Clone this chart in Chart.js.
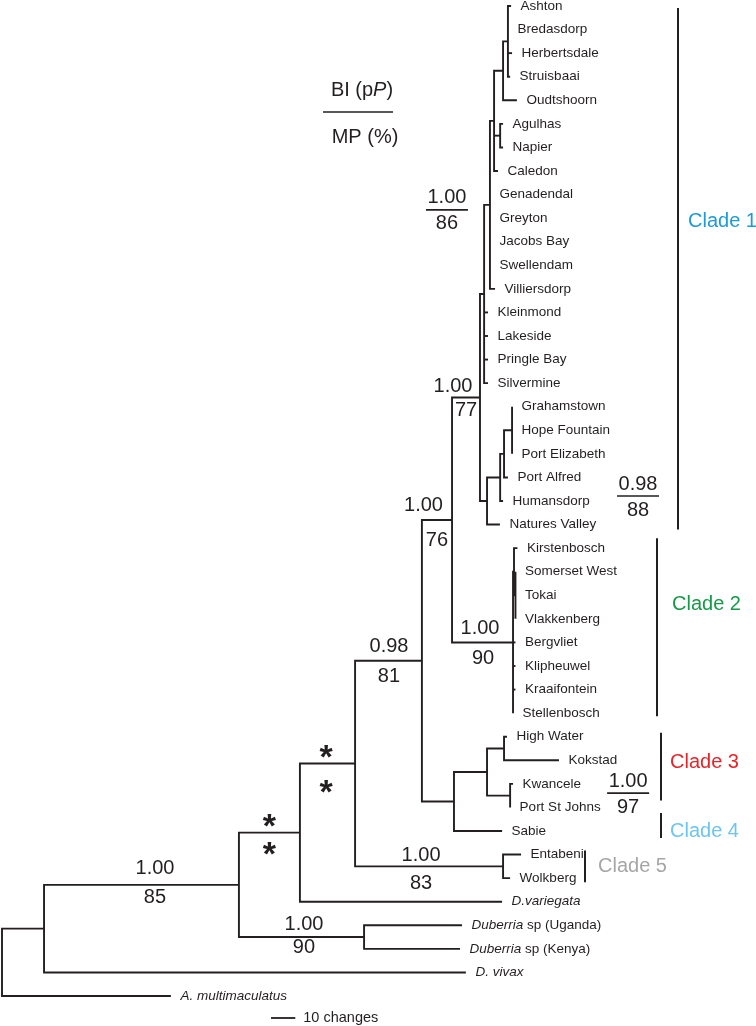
<!DOCTYPE html>
<html>
<head>
<meta charset="utf-8">
<script src="https://cdn.jsdelivr.net/npm/chart.js@4.4.1/dist/chart.umd.min.js"></script>
<style>
  html, body { margin: 0; padding: 0; background: #fff; }
  canvas { display: block; }
</style>
</head>
<body>
<canvas id="tree" width="756" height="1026"></canvas>
<script>
// Leaves, top to bottom. Text between _ _ is italic.
const taxa = [
    'Ashton', 'Bredasdorp', 'Herbertsdale', 'Struisbaai', 'Oudtshoorn',
    'Agulhas', 'Napier', 'Caledon', 'Genadendal', 'Greyton',
    'Jacobs Bay', 'Swellendam', 'Villiersdorp', 'Kleinmond', 'Lakeside',
    'Pringle Bay', 'Silvermine', 'Grahamstown', 'Hope Fountain', 'Port Elizabeth',
    'Port Alfred', 'Humansdorp', 'Natures Valley', 'Kirstenbosch', 'Somerset West',
    'Tokai', 'Vlakkenberg', 'Bergvliet', 'Klipheuwel', 'Kraaifontein',
    'Stellenbosch', 'High Water', 'Kokstad', 'Kwancele', 'Port St Johns',
    'Sabie', 'Entabeni', 'Wolkberg', '_D.variegata_', '_Duberria_ sp (Uganda)',
    '_Duberria_ sp (Kenya)', '_D. vivax_', '_A. multimaculatus_'
];

// distance of each tip from the root (changes)
const tipDepth = [
    209.5, 208.2, 209.9, 209.1, 211.9,
    206.2, 206.2, 204.1, 200.8, 200.8,
    200.8, 200.8, 202.9, 200.0, 200.0,
    200.0, 200.0, 209.9, 209.9, 209.9,
    208.2, 206.2, 204.9, 212.1, 211.3,
    211.3, 211.3, 211.3, 211.3, 211.3,
    210.3, 207.8, 229.2, 210.3, 209.1,
    205.8, 213.6, 209.1, 205.8, 189.3,
    188.5, 190.9, 69.5
];

// internal nodes, children first; numbers are leaves, strings are nodes
const nodeNames = ['A1', 'A2', 'AN', 'A3', 'W2', 'W1', 'G1', 'E3', 'E2', 'E1', 'C1',
                   'Z', 'Y', 'X', 'B', 'HK', 'KP', 'C3', 'C34', 'NA', 'EW', 'N6', 'N4',
                   'DU', 'N2', 'N1', 'R'];
const nodeDepth = [208.2, 206.2, 205.0, 202.5, 200.8, 198.4, 209.9, 206.6, 205.0, 199.6, 196.7,
                   211.3, 210.7, 210.3, 185.2, 206.6, 209.1, 199.6, 186.0, 172.8, 206.2, 145.3, 122.6,
                   149.0, 97.5, 17.3, 0];
const nodeKids = [
    [0, 1, 2, 3], ['A1', 4], [5, 6], ['A2', 'AN', 7], ['A3', 8, 9, 10, 11, 12],
    ['W2', 13, 14, 15, 16], [17, 18, 19], ['G1', 20], ['E3', 21], ['E2', 22], ['W1', 'E1'],
    [24, 25, 26], [23, 'Z'], ['Y', 27, 28, 29, 30], ['C1', 'X'], [31, 32], [33, 34],
    ['HK', 'KP'], ['C3', 35], ['B', 'C34'], [36, 37], ['NA', 'EW'], ['N6', 38],
    [39, 40], ['N4', 'DU'], ['N2', 41], ['N1', 42]
];

// support: Bayesian posterior / parsimony bootstrap
const supportNode = ['N2', 'N4', 'N6', 'NA', 'B', 'C1', 'X', 'EW', 'DU', 'W2', 'E1', 'KP'];
const supportBI = ['1.00', '*', '*', '0.98', '1.00', '1.00', '1.00', '1.00', '1.00', '1.00', '0.98', '1.00'];
const supportMP = ['85', '*', '*', '81', '76', '77', '90', '83', '90', '86', '88', '97'];

const cladeNames = ['Clade 1', 'Clade 2', 'Clade 3', 'Clade 4', 'Clade 5'];
const cladeFirst = [0, 23, 31, 35, 36];
const cladeLast = [22, 30, 34, 35, 37];
const scaleBarLength = 10; // changes

// ---- layout / styling (pixels) ----
const FONT = '"Liberation Sans", Arial, Helvetica, sans-serif';
const INK = '#231f20';
const cladeColors = ['#1e9ad6', '#17994a', '#e4262b', '#6ec5ee', '#a6a6a6'];
const cladeBarX = [678, 657, 661, 661, 585];
const cladePad = [[-2, 5], [10, 3], [4, -7], [18, 7], [4, 4]]; // extra above first / below last leaf
const cladeTextX = [688, 672, 670, 670, 598];
const cladeTextRow = [9.15, 25.4, 32.1, 35.0, 36.5];
// split: [dx, dy] of upper and lower text from branch midpoint; frac: [dx, dy] from node
const supportLayout = [
    { kind: 'split', top: [13.5, -16], bottom: [13.5, 13] },
    { kind: 'split', top: [0, -12], bottom: [0, 16] },
    { kind: 'split', top: [-1.5, -12], bottom: [-1.5, 23] },
    { kind: 'split', top: [0.5, -14], bottom: [0.5, 16] },
    { kind: 'split', top: [-13.5, -14], bottom: [0, 21] },
    { kind: 'split', top: [-13, -11], bottom: [0, 13] },
    { kind: 'split', top: [-2.5, -14], bottom: [0.5, 16] },
    { kind: 'split', top: [-8, -11], bottom: [-8, 17] },
    { kind: 'split', top: [2.5, -13], bottom: [2.5, 10] },
    { kind: 'frac', at: [-43, 5] },
    { kind: 'frac', at: [151, -5] },
    { kind: 'frac', at: [118, -2.5] }
];
const scaleBarStart = 110.7;

// y of every node = midpoint of first and last child
const nodeX = {}, nodeY = {}, parentOf = {};
const kidX = k => typeof k === 'number' ? tipDepth[k] : nodeX[k];
const kidY = k => typeof k === 'number' ? k : nodeY[k];
nodeNames.forEach((n, i) => {
    const kids = nodeKids[i];
    nodeX[n] = nodeDepth[i];
    nodeY[n] = (kidY(kids[0]) + kidY(kids[kids.length - 1])) / 2;
    kids.forEach(k => { if (typeof k === 'string') parentOf[k] = n; });
});

const segments = [];
nodeNames.forEach((n, i) => {
    const kids = nodeKids[i];
    const x = nodeDepth[i];
    const a = kids[0], b = kids[kids.length - 1];
    segments.push([
        { x: kidX(a), y: kidY(a) }, { x: x, y: kidY(a) },
        { x: x, y: kidY(b) }, { x: kidX(b), y: kidY(b) }
    ]);
    kids.slice(1, -1).forEach(k => segments.push([{ x: x, y: kidY(k) }, { x: kidX(k), y: kidY(k) }]));
});

const datasets = segments.map(seg => ({
    data: seg,
    showLine: true,
    borderColor: INK,
    borderWidth: 1.9,
    pointRadius: 0,
    fill: false,
    tension: 0,
    borderJoinStyle: 'miter',
    borderCapStyle: 'butt'
}));

function richText(ctx, str, x, y, size, align) {
    const parts = str.split('_');
    const fonts = parts.map((p, i) => (i % 2 ? 'italic ' : '') + size + 'px ' + FONT);
    let total = 0;
    parts.forEach((p, i) => { ctx.font = fonts[i]; total += ctx.measureText(p).width; });
    let cx = align === 'center' ? x - total / 2 : x;
    ctx.textAlign = 'left';
    parts.forEach((p, i) => {
        ctx.font = fonts[i];
        ctx.fillText(p, cx, y);
        cx += ctx.measureText(p).width;
    });
}

const treeText = {
    id: 'treeText',
    afterDraw(chart) {
        const ctx = chart.ctx;
        const px = v => chart.scales.x.getPixelForValue(v);
        const py = v => chart.scales.y.getPixelForValue(v);
        ctx.save();
        ctx.fillStyle = INK;
        ctx.strokeStyle = INK;
        ctx.textBaseline = 'middle';

        // tip labels
        taxa.forEach((name, i) => richText(ctx, name, px(tipDepth[i]) + 9.5, py(i), 13.5, 'left'));

        // support values
        supportNode.forEach((n, i) => {
            const lay = supportLayout[i];
            const ny = py(nodeY[n]);
            if (lay.kind === 'split') {
                const mid = (px(nodeX[parentOf[n]]) + px(nodeX[n])) / 2;
                [[supportBI[i], lay.top], [supportMP[i], lay.bottom]].forEach(([t, off]) => {
                    ctx.textAlign = 'center';
                    if (t === '*') {
                        ctx.font = 'bold 34px ' + FONT;
                        ctx.fillText(t, mid + off[0], ny + off[1] + 0.22 * 34);
                    } else {
                        ctx.font = '20px ' + FONT;
                        ctx.fillText(t, mid + off[0], ny + off[1]);
                    }
                });
            } else {
                const cx = px(nodeX[n]) + lay.at[0], cy = ny + lay.at[1];
                ctx.lineWidth = 1.6;
                ctx.beginPath(); ctx.moveTo(cx - 21, cy); ctx.lineTo(cx + 21, cy); ctx.stroke();
                ctx.font = '20px ' + FONT;
                ctx.textAlign = 'center';
                ctx.fillText(supportBI[i], cx, cy - 12);
                ctx.fillText(supportMP[i], cx, cy + 14);
            }
        });

        // key
        richText(ctx, 'BI (p_P_)', 362, 90, 20, 'center');
        ctx.lineWidth = 1.6;
        ctx.beginPath(); ctx.moveTo(323, 112); ctx.lineTo(393, 112); ctx.stroke();
        richText(ctx, 'MP (%)', 365, 137, 20, 'center');

        // clade bars
        cladeNames.forEach((c, i) => {
            ctx.strokeStyle = INK;
            ctx.lineWidth = 2;
            ctx.beginPath();
            ctx.moveTo(cladeBarX[i], py(cladeFirst[i]) - cladePad[i][0]);
            ctx.lineTo(cladeBarX[i], py(cladeLast[i]) + cladePad[i][1]);
            ctx.stroke();
            ctx.fillStyle = cladeColors[i];
            ctx.font = '20px ' + FONT;
            ctx.textAlign = 'left';
            ctx.fillText(c, cladeTextX[i], py(cladeTextRow[i]));
        });

        // scale bar
        ctx.fillStyle = INK;
        ctx.strokeStyle = INK;
        const sy = py(taxa.length - 1) + 22;
        ctx.lineWidth = 1.8;
        ctx.beginPath();
        ctx.moveTo(px(scaleBarStart), sy); ctx.lineTo(px(scaleBarStart + scaleBarLength), sy);
        ctx.stroke();
        ctx.font = '14.5px ' + FONT;
        ctx.textAlign = 'left';
        ctx.fillText(scaleBarLength + ' changes', px(scaleBarStart + scaleBarLength) + 8, sy);
        ctx.restore();
    }
};

// 1 change = 2.43 px; root sits 2 px from the left edge
const PX_PER_CHANGE = 2.43;
const ROW_TOP = 6, ROW_BOTTOM = 996, H = 1026, W = 756;
const rowSpan = (taxa.length - 1) * H / (ROW_BOTTOM - ROW_TOP);
const yMin = -ROW_TOP / H * rowSpan;

new Chart(document.getElementById('tree'), {
    type: 'scatter',
    data: { datasets: datasets },
    options: {
        responsive: false,
        animation: false,
        devicePixelRatio: 1,
        layout: { padding: 0 },
        plugins: { legend: { display: false }, tooltip: { enabled: false } },
        scales: {
            x: { type: 'linear', display: false, min: -2 / PX_PER_CHANGE, max: -2 / PX_PER_CHANGE + W / PX_PER_CHANGE },
            y: { type: 'linear', display: false, reverse: true, min: yMin, max: yMin + rowSpan }
        }
    },
    plugins: [treeText]
});
</script>
</body>
</html>
